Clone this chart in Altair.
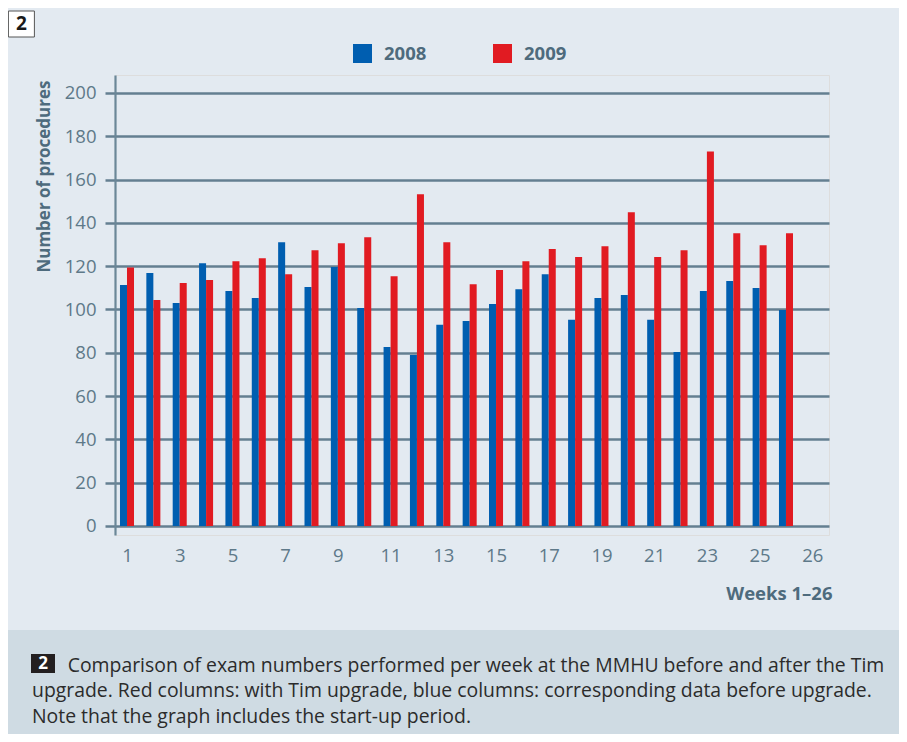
import altair as alt
import pandas as pd

# ---- data ----
weeks = list(range(1, 27))
y2008 = [111.3, 116.8, 103.0, 121.4, 108.5, 105.3, 131.1, 110.4, 119.6, 100.7, 82.7, 79.0, 92.9,
         94.7, 102.5, 109.4, 116.3, 95.2, 105.3, 106.7, 95.2, 80.4, 108.5, 113.1, 109.9, 99.8]
y2009 = [119.4, 104.4, 112.2, 113.6, 122.3, 123.7, 116.3, 127.4, 130.6, 133.4, 115.4, 153.2, 131.1,
         111.7, 118.2, 122.3, 127.9, 124.2, 129.2, 144.9, 124.2, 127.4, 173.0, 135.2, 129.7, 135.2]
series = ["2008", "2009"]
series_colors = ["#005eb0", "#e11b22"]
x_tick_values = [1, 3, 5, 7, 9, 11, 13, 15, 17, 19, 21, 23, 25, 27]
y_tick_values = list(range(0, 201, 20))
y_title = "Number of procedures"
x_title = "Weeks 1\u201326"
figure_number = "2"
caption_first = "Comparison of exam numbers performed per week at the MMHU before and after the Tim"
caption_rest = ("upgrade. Red columns: with Tim upgrade, blue columns: corresponding data before upgrade.\n"
                "Note that the graph includes the start-up period.")

rows = []
for i, w in enumerate(weeks):
    rows.append({"week": w, "year": series[0], "value": y2008[i]})
    rows.append({"week": w, "year": series[1], "value": y2009[i]})
df = pd.DataFrame(rows)
one = pd.DataFrame({"k": [0]})

GRID = "#647f91"
LABEL = "#5e7989"
TITLE = "#4e6b7d"
FONT = "Open Sans"
BW = 0.266
CAP_SIZE = 19.4

bars = alt.Chart(df).transform_calculate(
    x1="datum.week + (datum.year == '2008' ? -%f : 0)" % BW,
    x2="datum.week + (datum.year == '2008' ? 0 : %f)" % BW,
    zero="0",
).mark_rect().encode(
    x=alt.X("x1:Q", scale=alt.Scale(domain=[0.545, 27.632], nice=False, zero=False),
            axis=alt.Axis(values=x_tick_values, format="d",
                          labelExpr="datum.value == 27 ? '26' : datum.label",
                          grid=False, domain=False, ticks=False,
                          labelFontSize=18.5, labelColor=LABEL, labelFont=FONT, labelPadding=11,
                          title=x_title, titleFontSize=18.5, titleFontWeight="bold", titleColor=TITLE,
                          titleFont=FONT, titleAnchor="end", titleAlign="right", titlePadding=20,
                          titleX=717)),
    x2="x2:Q",
    y=alt.Y("value:Q", scale=alt.Scale(domain=[-4.16, 208.3], nice=False, zero=False),
            axis=alt.Axis(values=y_tick_values, grid=True, gridColor=GRID, gridWidth=2.5, gridOpacity=1,
                          domain=True, domainColor="#6b8798", domainWidth=2.2,
                          ticks=True, tickColor=GRID, tickWidth=2.5, tickSize=10,
                          labelFontSize=18.5, labelColor=LABEL, labelFont=FONT, labelPadding=9,
                          title=y_title, titleFontSize=17, titleFontWeight="bold", titleColor=TITLE,
                          titleFont=FONT, titleAnchor="end", titlePadding=11, titleY=5)),
    y2="zero:Q",
    color=alt.Color("year:N", scale=alt.Scale(domain=series, range=series_colors),
                    legend=alt.Legend(orient="none", legendX=238, legendY=-31, direction="horizontal",
                                      title=None, symbolType="square", symbolSize=361,
                                      symbolStrokeWidth=0, symbolOpacity=1,
                                      labelFontSize=18.5, labelFontWeight="bold", labelColor=TITLE,
                                      labelFont=FONT, labelOffset=12, columnPadding=66)),
)

# caption band
band = alt.Chart(one).mark_rect(color="#cfdbe3").encode(
    x=alt.value(-107), x2=alt.value(784), y=alt.value(555), y2=alt.value(659))
cap_box = alt.Chart(one).mark_rect(color="#231f20").encode(
    x=alt.value(-84), x2=alt.value(-60), y=alt.value(579), y2=alt.value(598))
cap_num = alt.Chart(one).mark_text(font=FONT, fontSize=17, fontWeight="bold", color="white",
                                   align="center", baseline="middle").encode(
    x=alt.value(-72), y=alt.value(588.5), text=alt.value(figure_number))
cap_1 = alt.Chart(one).mark_text(font=FONT, fontSize=CAP_SIZE, color="#2b2b2b", align="left",
                                 baseline="alphabetic").encode(
    x=alt.value(-47.3), y=alt.value(597), text=alt.value(caption_first))
cap_2 = alt.Chart(one).mark_text(font=FONT, fontSize=CAP_SIZE, color="#2b2b2b", align="left",
                                 baseline="alphabetic", lineBreak="\n", lineHeight=26).encode(
    x=alt.value(-83), y=alt.value(622), text=alt.value(caption_rest))

# figure number box at top left
top_box = alt.Chart(one).mark_rect(fill="white", stroke="#555555", strokeWidth=1).encode(
    x=alt.value(-106.6), x2=alt.value(-80.6), y=alt.value(-64), y2=alt.value(-38))
top_num = alt.Chart(one).mark_text(font=FONT, fontSize=19, fontWeight="bold", color="#1a1a1a",
                                   align="center", baseline="middle").encode(
    x=alt.value(-93.6), y=alt.value(-51), text=alt.value(figure_number))

chart = alt.layer(band, cap_box, cap_num, cap_1, cap_2, top_box, top_num, bars).properties(
    width=714, height=460,
    autosize=alt.AutoSizeParams(type="none"),
    padding={"left": 107, "top": 67, "right": 70, "bottom": 199},
    background="#e3eaf1",
).configure_view(stroke=None).configure(font=FONT)

chart.save("out.html", embed_options={"renderer": "svg", "actions": False})
